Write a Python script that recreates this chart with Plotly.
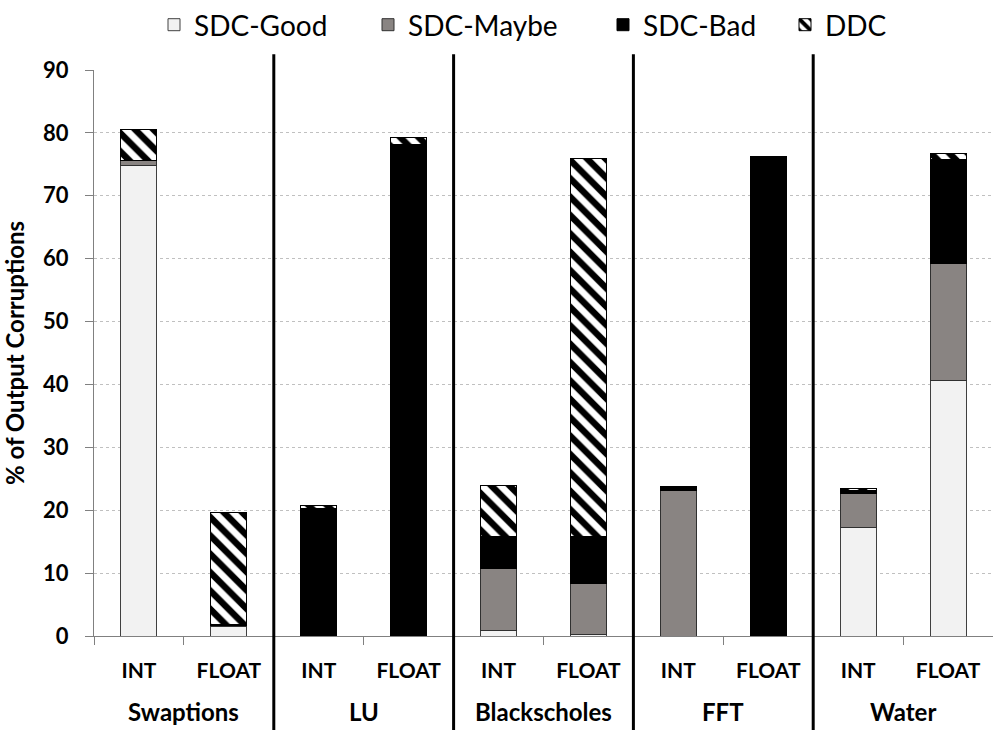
import plotly.graph_objects as go

groups = ["Swaptions", "LU", "Blackscholes", "FFT", "Water"]
types = ["INT", "FLOAT"]

sdc_good = [74.8, 1.5, 0, 0, 0.9, 0.3, 0, 0, 17.2, 40.6]
sdc_maybe = [0.8, 0.2, 0, 0, 9.8, 8.1, 23.1, 0, 5.5, 18.7]
sdc_bad = [0, 0.2, 20.3, 78.2, 5.2, 7.5, 0.6, 76.3, 0.5, 16.5]
ddc = [4.9, 17.7, 0.5, 1.0, 8.0, 60.1, 0, 0, 0.2, 0.9]

y_ticks = [0, 10, 20, 30, 40, 50, 60, 70, 80, 90]

keys = [f"{g} {t}" for g in groups for t in types]
key_labels = [t for g in groups for t in types]

FONT = "Lato"

# (legend id, text-left pixel in the page)
legend_pos = {"legend": 196, "legend2": 410, "legend3": 645, "legend4": 827}

fig = go.Figure()
fig.add_trace(go.Bar(name="SDC-Good", x=keys, y=sdc_good, legend="legend",
                     marker=dict(color="#f2f2f2", line=dict(color="#404040", width=1))))
fig.add_trace(go.Bar(name="SDC-Maybe", x=keys, y=sdc_maybe, legend="legend2",
                     marker=dict(color="#898482", line=dict(color="#303030", width=1))))
fig.add_trace(go.Bar(name="SDC-Bad", x=keys, y=sdc_bad, legend="legend3",
                     marker=dict(color="#000000", line=dict(color="#000000", width=1))))
fig.add_trace(go.Bar(name="DDC", x=keys, y=ddc, legend="legend4",
                     marker=dict(color="#ffffff", line=dict(color="#000000", width=1),
                                 pattern=dict(shape="\\", fgcolor="#000000", bgcolor="#ffffff",
                                              fgopacity=1, size=13, solidity=0.5))))

# invisible numeric axis used to place group separators and group labels
fig.add_trace(go.Scatter(x=[-0.5, 9.5], y=[0, 0], xaxis="x2", mode="markers",
                         marker=dict(opacity=0), showlegend=False, hoverinfo="skip"))

for i in range(1, len(groups)):
    b = 2 * i - 0.5
    fig.add_shape(type="line", xref="x2", yref="paper", x0=b, x1=b, y0=-0.17, y1=1.028,
                  line=dict(color="black", width=3))

for i, g in enumerate(groups):
    fig.add_annotation(x=2 * i + 0.5, xref="x2", y=-0.134, yref="paper", text=g,
                       showarrow=False, yanchor="middle",
                       font=dict(family=FONT, size=24, weight="bold", color="black"))

legend_common = dict(orientation="h", yref="container", y=1.0, yanchor="top", xref="container",
                     xanchor="left", font=dict(family=FONT, size=28), bgcolor="rgba(0,0,0,0)")
legends = {}
for lid, px in legend_pos.items():
    legends[lid] = dict(legend_common, x=(px - 42) / 993)

fig.update_layout(
    width=993, height=730,
    margin=dict(l=94, r=0, t=70, b=94),
    barmode="stack", bargap=0.6,
    plot_bgcolor="white", paper_bgcolor="white",
    font=dict(family=FONT, color="black"),
    showlegend=True,
    yaxis=dict(range=[0, 90], tickvals=y_ticks, showgrid=True, gridcolor="#c0c0c0", griddash="dot",
               gridwidth=1, showline=True, linecolor="#808080", linewidth=1, ticks="outside",
               ticklen=8, tickcolor="#808080", zeroline=False, ticklabelstandoff=12,
               tickfont=dict(family=FONT, size=22, weight="bold"),
               title=dict(text="% of Output Corruptions", font=dict(family=FONT, size=24, weight="bold"),
                          standoff=21)),
    xaxis=dict(type="category", tickvals=keys, ticktext=key_labels, showline=True,
               linecolor="#808080", linewidth=1, ticks="outside", tickson="boundaries", ticklen=8,
               tickcolor="#808080", ticklabelstandoff=16,
               tickfont=dict(family=FONT, size=21, weight="bold")),
    xaxis2=dict(overlaying="x", range=[-0.5, 9.5], visible=False, fixedrange=True),
    **legends,
)

fig.write_html("out.html")
